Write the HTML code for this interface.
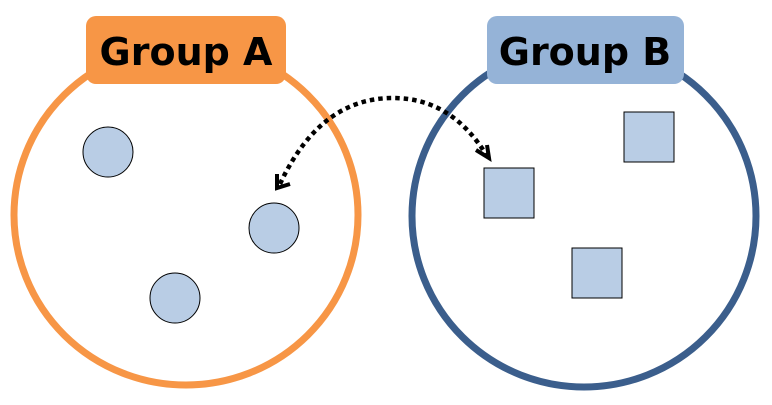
<!DOCTYPE html>
<html><head><style>body{margin:0;background:#fff}svg{display:block}</style></head><body>
<svg width="772" height="405" viewBox="0 0 772 405" xmlns="http://www.w3.org/2000/svg">
<ellipse cx="186" cy="215" rx="172" ry="170" fill="none" stroke="#F79646" stroke-width="7"/>
<ellipse cx="584" cy="216" rx="172" ry="171" fill="none" stroke="#3B5E8C" stroke-width="7"/>
<rect x="86" y="16" width="200" height="68" rx="10" fill="#F79646"/>
<rect x="487" y="16" width="197" height="68" rx="10" fill="#95B3D7"/>
<text x="186" y="65" text-anchor="middle" font-family="DejaVu Sans, sans-serif" font-weight="bold" font-size="38" fill="#000">Group A</text>
<text x="585" y="65" text-anchor="middle" font-family="DejaVu Sans, sans-serif" font-weight="bold" font-size="38" fill="#000">Group B</text>
<g fill="#B9CDE5" stroke="#000" stroke-width="1">
<circle cx="108" cy="152" r="25"/><circle cx="274" cy="228" r="25"/><circle cx="175" cy="298" r="25"/>
<rect x="484" y="168" width="50" height="50"/><rect x="624" y="112" width="50" height="50"/><rect x="572" y="248" width="50" height="50"/>
</g>
<path d="M280,184 C310,120 350,98 393,98 C435,98 465,120 487,156" fill="none" stroke="#000" stroke-width="4.5" stroke-dasharray="4.5,4"/>
<path d="M277,174 L277,188 L290,184" fill="none" stroke="#000" stroke-width="4"/>
<path d="M476,150 L489,158 L487,145" fill="none" stroke="#000" stroke-width="4"/>
</svg>
</body></html>
